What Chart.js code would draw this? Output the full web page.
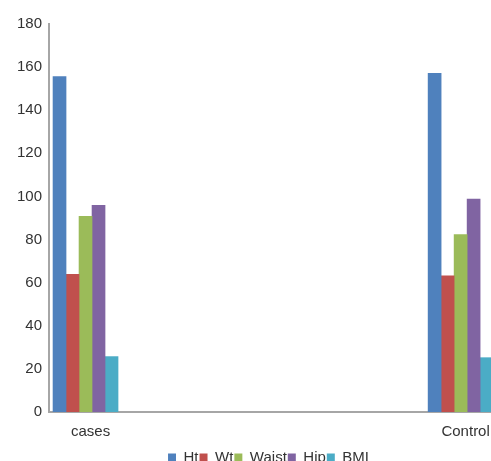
<!DOCTYPE html>
<html><head><meta charset="utf-8">
<script src="https://cdn.jsdelivr.net/npm/chart.js@4"></script>
<style>html,body{margin:0;padding:0;background:#fff;overflow:hidden}</style>
</head><body>
<canvas id="c" width="491" height="475"></canvas>
<script>
const categories = ['cases', 'Control'];
const seriesNames = ['Ht', 'Wt', 'Waist', 'Hip', 'BMI'];
const ht = [155.6, 157.1];
const wt = [63.9, 63.2];
const waist = [90.8, 82.3];
const hip = [95.9, 98.8];
const bmi = [25.7, 25.2];
const yTicks = [0, 20, 40, 60, 80, 100, 120, 140, 160, 180];
const colors = ['#4F81BD', '#C0504D', '#9BBB59', '#8064A2', '#4BACC6'];

const series = [ht, wt, waist, hip, bmi];
const datasets = series.map((vals, k) => ({
  label: seriesNames[k],
  data: vals.map((v, i) => ({x: i, y: v})),
  backgroundColor: colors[k],
  borderWidth: 0,
  barThickness: 13
}));

const font = {family: '"Liberation Sans", Arial, sans-serif', size: 15};
const axisColor = '#a6a6a6';

const legendShift = {
  id: 'legendShift',
  afterLayout(chart) {
    const lg = chart.legend;
    if (lg) { lg.left += 23; lg.right += 23; }
  }
};

new Chart(document.getElementById('c'), {
  type: 'bar',
  data: {datasets},
  plugins: [legendShift],
  options: {
    responsive: false,
    animation: false,
    devicePixelRatio: 1,
    layout: {padding: {top: 24, left: 0, right: 0, bottom: 0}},
    plugins: {
      legend: {
        position: 'bottom',
        labels: {boxWidth: 8, boxHeight: 8, font, color: '#333', padding: 1}
      },
      tooltip: {enabled: false}
    },
    scales: {
      x: {
        type: 'linear',
        offset: false,
        min: -0.0974,
        max: 1.081,
        afterBuildTicks: s => { s.ticks = categories.map((_, i) => ({value: i})); },
        afterFit: s => { s.height = 37; s.paddingLeft = 0; s.paddingRight = 0; },
        ticks: {
          font, color: '#333', padding: 11, labelOffset: 5, maxRotation: 0,
          callback: v => categories[v] ?? ''
        },
        grid: {display: false, drawTicks: false, offset: false},
        border: {display: true, color: axisColor, width: 2}
      },
      y: {
        min: 0,
        max: 180,
        afterBuildTicks: s => { s.ticks = yTicks.map(v => ({value: v})); },
        afterFit: s => { s.width = 49; },
        ticks: {font, color: '#333', padding: 7},
        grid: {display: false, drawTicks: false},
        border: {display: true, color: axisColor, width: 2}
      }
    }
  }
});
</script>
</body></html>
